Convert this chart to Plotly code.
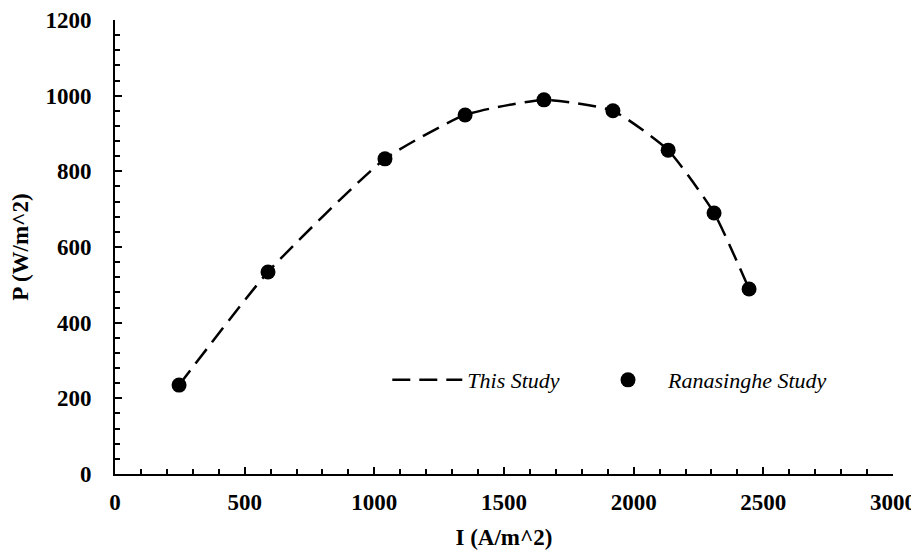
import plotly.graph_objects as go

# Data
current_density = [247, 590, 1041, 1350, 1654, 1920, 2133, 2310, 2445]
power_this_study = [235, 534, 833, 949, 989, 960, 856, 690, 489]
ranasinghe_I = [247, 590, 1041, 1350, 1654, 1920, 2133, 2310, 2445]
ranasinghe_P = [235, 534, 833, 949, 989, 960, 856, 690, 489]

x_ticks = [0, 500, 1000, 1500, 2000, 2500, 3000]
y_ticks = [0, 200, 400, 600, 800, 1000, 1200]

FONT = "Liberation Serif, Times New Roman, serif"

fig = go.Figure()
fig.add_trace(go.Scatter(
    x=current_density, y=power_this_study, mode="lines", name="This Study",
    line=dict(color="black", width=2.5, dash="18px,9px", shape="spline", smoothing=0.5),
    legend="legend",
))
fig.add_trace(go.Scatter(
    x=ranasinghe_I, y=ranasinghe_P, mode="markers", name="Ranasinghe Study",
    marker=dict(color="black", size=15, symbol="circle"),
    legend="legend2",
))

axis_common = dict(
    showline=True, linecolor="black", linewidth=2,
    ticks="inside", ticklen=7, tickwidth=2, tickcolor="black",
    showgrid=False, zeroline=False, mirror=False, automargin=False,
    tickfont=dict(family=FONT, size=23, color="black", weight="bold"),
)

fig.update_xaxes(
    range=[0, 3000], tickvals=x_ticks, ticktext=[str(v) for v in x_ticks],
    minor=dict(dtick=100, ticks="inside", ticklen=5, tickwidth=1.5, tickcolor="black"),
    ticklabelstandoff=6,
    title=dict(text="I (A/m^2)", font=dict(family=FONT, size=23, color="black", weight="bold"), standoff=15),
    **axis_common,
)
fig.update_yaxes(
    range=[0, 1200], tickvals=y_ticks, ticktext=[str(v) for v in y_ticks],
    minor=dict(dtick=40, ticks="inside", ticklen=5, tickwidth=1.5, tickcolor="black"),
    ticklabelstandoff=17,
    title=dict(text="P (W/m^2)", font=dict(family=FONT, size=23, color="black", weight="bold"), standoff=11),
    **axis_common,
)

legend_style = dict(
    orientation="h", xanchor="left", yanchor="middle", y=0.207,
    font=dict(family=FONT, size=22, color="black", style="italic"),
    bgcolor="rgba(0,0,0,0)", itemwidth=70,
)

fig.update_layout(
    width=911, height=544,
    margin=dict(l=107, r=26, t=12, b=78),
    paper_bgcolor="white", plot_bgcolor="white",
    showlegend=True,
    legend=dict(x=0.35, **legend_style),
    legend2=dict(x=0.608, **legend_style),
)

fig.write_html("out.html")
